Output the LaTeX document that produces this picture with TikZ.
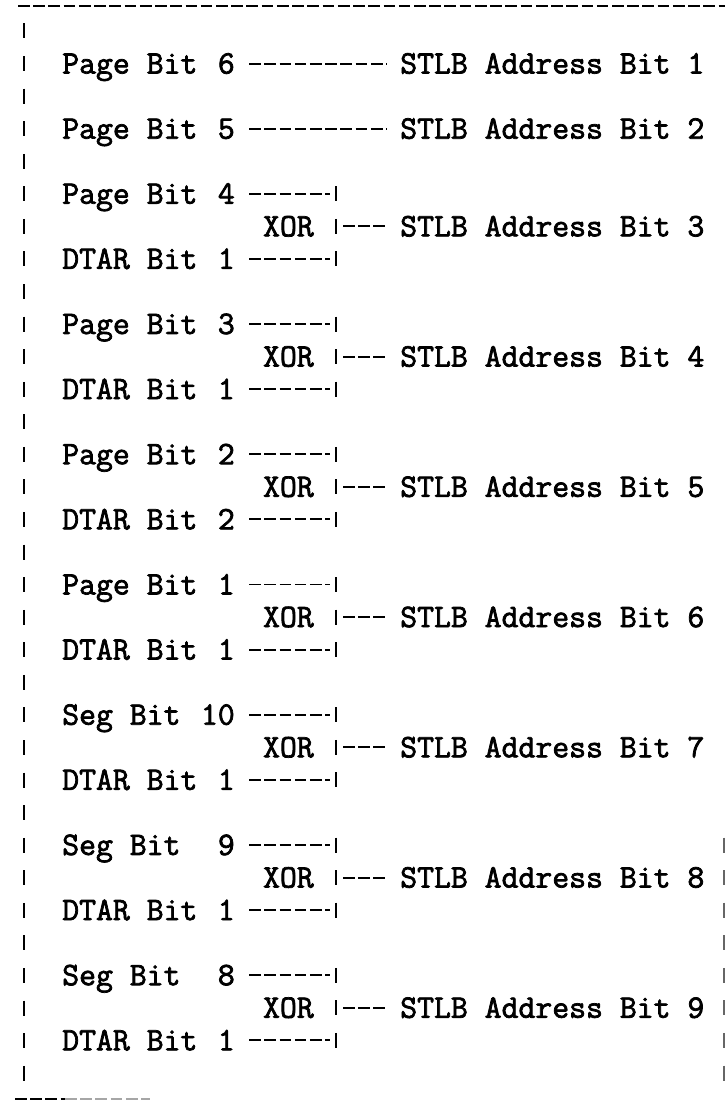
\documentclass[tikz,border=0pt]{standalone}
\usepackage{fontspec}
\newfontfamily\typer[FakeBold=2.2]{Latin Modern Mono}
\usetikzlibrary{positioning}

\begin{document}
\begin{tikzpicture}[
    x=0.03cm, y=-0.03cm,
    tt/.style={font=\typer\fontsize{28}{28}\selectfont, inner sep=0pt, yshift=-8.5pt},
    bitname/.style={tt, anchor=base west},
    bitnum/.style={tt, anchor=base east},
    target/.style={tt, anchor=base west},
    gate/.style={tt, anchor=base east},
    hyph/.style={line width=1.6pt, dash pattern=on 10pt off 3pt},
    bars/.style={line width=1.6pt, dash pattern=on 12.8pt off 15pt},
]
\useasboundingbox (0,0) rectangle (725,1103);

% Frame pieces
\coordinate (tl) at (18,6);
\coordinate (tr) at (725,6);
\draw[hyph] (tl) -- (tr);
\coordinate (lt) at (24,23.5);
\coordinate (lb) at (24,1080.5);
\draw[bars] (lt) -- (lb);
\coordinate (rt) at (724,837.5);
\coordinate (rb) at (724,1080.5);
\draw[bars, black!60] (rt) -- (rb);
\coordinate (bl) at (15,1099);
\coordinate (bm) at (65,1099);
\coordinate (br) at (150,1099);
\draw[hyph] (bl) -- (bm);
\draw[hyph, black!35] (bm) -- (br);

% Straight-through bits
\coordinate (r2) at (0,63.6);
\node[bitname] (p6) at (62,63.6) {Page Bit};
\node[bitnum] (p6n) at (235,63.6) {6};
\node[target] (stlb1) at (400,63.6) {STLB Address Bit 1};
\draw[hyph, shorten <=12pt, shorten >=11pt] (p6n.east |- r2) -- (stlb1.west |- r2);

\coordinate (r4) at (0,128.7);
\node[bitname] (p5) at (62,128.7) {Page Bit};
\node[bitnum] (p5n) at (235,128.7) {5};
\node[target] (stlb2) at (400,128.7) {STLB Address Bit 2};
\draw[hyph, shorten <=12pt, shorten >=11pt] (p5n.east |- r4) -- (stlb2.west |- r4);

% XOR-ed bits
\foreach \src/\sn/\dn/\an [count=\k from 0] in {Page Bit/4/1/3, Page Bit/3/1/4,
    Page Bit/2/2/5, Page Bit/1/1/6, Seg Bit/10/1/7, Seg Bit/9/1/8, Seg Bit/8/1/9}{
  \pgfmathsetmacro\ys{193.8+130.24*\k}
  \pgfmathsetmacro\yx{\ys+32.56}
  \pgfmathsetmacro\yd{\ys+65.12}
  \node[bitname] (src\an) at (62,\ys) {\src};
  \node[bitnum] (srcn\an) at (235,\ys) {\sn};
  \node[bitname] (dtar\an) at (62,\yd) {DTAR Bit};
  \node[bitnum] (dtarn\an) at (235,\yd) {\dn};
  \node[gate] (xor\an) at (314,\yx) {XOR};
  \node[target] (stlb\an) at (400,\yx) {STLB Address Bit \an};
  \coordinate (top\an) at (336,\ys-7.5);
  \coordinate (bot\an) at (336,\yd+7.5);
  \coordinate (ina\an) at (330,\ys);
  \coordinate (inb\an) at (330,\yd);
  \coordinate (out\an) at (343,\yx);
  \draw[bars] (top\an) -- (bot\an);
  \draw[hyph, shorten <=12pt] (srcn\an.east |- ina\an) -- (ina\an);
  \draw[hyph, shorten <=12pt] (dtarn\an.east |- inb\an) -- (inb\an);
  \draw[hyph, shorten >=11pt] (out\an) -- (stlb\an.west |- out\an);
}
\end{tikzpicture}
\end{document}
